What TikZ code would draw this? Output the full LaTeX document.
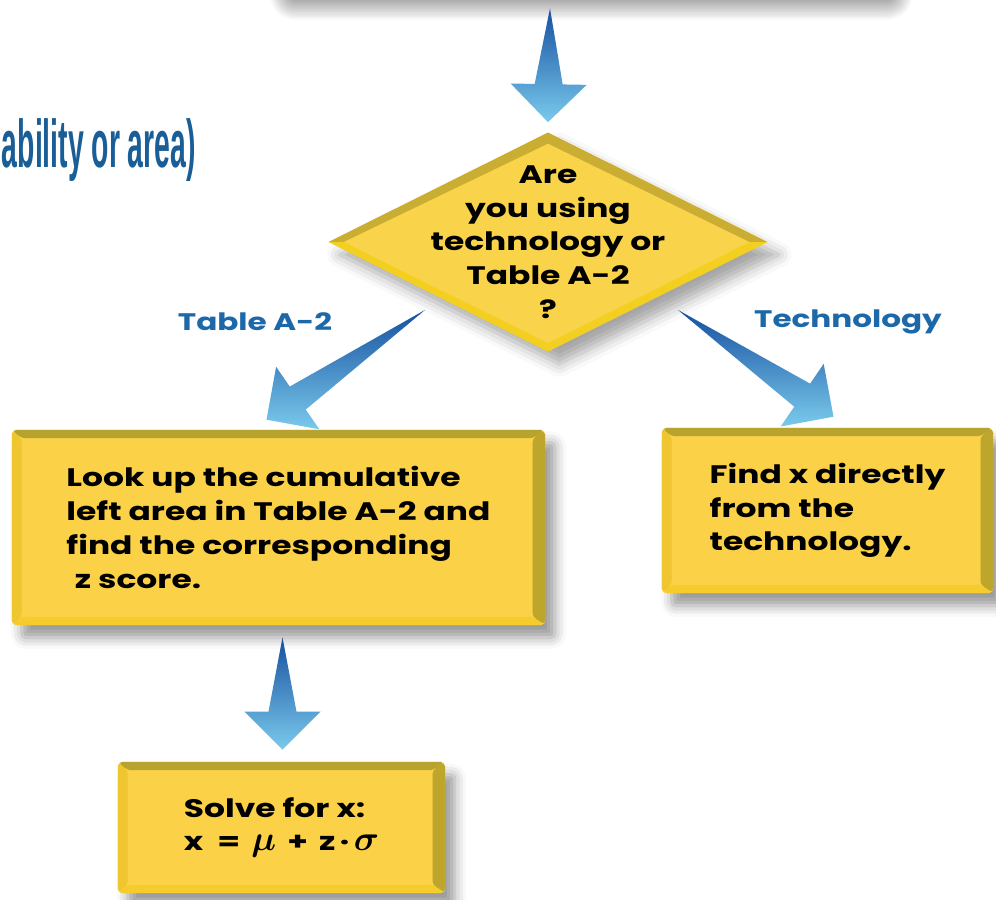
\documentclass[tikz,border=0pt]{standalone}
\usepackage{amsmath}
\usepackage{fontspec}
\setmainfont{Poppins}[FakeStretch=1.3]
\newfontfamily\notefont{Liberation Sans}
\usetikzlibrary{shapes.geometric,calc,shadows.blur}

\definecolor{boxfill}{RGB}{251,209,72}
\definecolor{beveltop}{RGB}{184,163,46}
\definecolor{bevelleft}{RGB}{240,198,48}
\definecolor{bevelright}{RGB}{190,166,44}
\definecolor{bevelbottom}{RGB}{246,204,44}
\definecolor{diafill}{RGB}{249,211,74}
\definecolor{diaupper}{RGB}{202,174,52}
\definecolor{dialower}{RGB}{243,208,32}
\definecolor{arrowdark}{RGB}{22,80,160}
\definecolor{arrowlight}{RGB}{122,202,236}
\definecolor{labelblue}{RGB}{28,104,168}

% tapered shaded arrow from a tail point to a tip point
\newcommand{\flowarrow}[2]{%
  \path[flowshade] (#1)
    -- ($(#2)!0.95cm!(#1)!0.35cm!90:(#2)$)
    -- ($(#2)!0.95cm!(#1)!0.95cm!90:(#2)$)
    -- (#2)
    -- ($(#2)!0.95cm!(#1)!0.95cm!-90:(#2)$)
    -- ($(#2)!0.95cm!(#1)!0.35cm!-90:(#2)$)
    -- cycle;}
% larger greek letters for the formula
\newcommand{\bigsym}[1]{{\fontsize{23}{24}\selectfont$\boldsymbol{#1}$}}

\begin{document}
\begin{tikzpicture}[x=0.025cm, y=-0.025cm,
every node/.style={font=\fontsize{18}{24}\selectfont\bfseries},
stepbox/.style={
  rectangle,
  rounded corners=3pt,
  fill=boxfill,
  align=left,
  inner sep=0pt,
  blur shadow={shadow xshift=7pt, shadow yshift=-9pt,
    shadow blur radius=8pt, shadow opacity=40},
  path picture={
    \path (path picture bounding box.north west) coordinate (o1)
          (path picture bounding box.north east) coordinate (o2)
          (path picture bounding box.south east) coordinate (o3)
          (path picture bounding box.south west) coordinate (o4);
    \path ([shift={(7pt,-6pt)}]o1) coordinate (i1)
          ([shift={(-9pt,-6pt)}]o2) coordinate (i2)
          ([shift={(-9pt,6pt)}]o3) coordinate (i3)
          ([shift={(7pt,6pt)}]o4) coordinate (i4);
    \fill[bevelleft] (o1) -- (i1) -- (i4) -- (o4) -- cycle;
    \fill[beveltop] (o1) -- (o2) -- (i2) -- (i1) -- cycle;
    \fill[bevelright] (o2) -- (o3) -- (i3) -- (i2) -- cycle;
    \fill[bevelbottom] (o4) -- (i4) -- (i3) -- (o3) -- cycle;
    \fill[boxfill] (i1) rectangle (i3);
    }
  },
askbox/.style={
  diamond,
  minimum width=10.975cm,
  minimum height=5.475cm,
  inner sep=0pt,
  fill=diafill,
  blur shadow={shadow xshift=8pt, shadow yshift=-9pt,
    shadow blur radius=9pt, shadow opacity=35},
  path picture={
    \path (path picture bounding box.north) coordinate (d1)
          (path picture bounding box.east) coordinate (d2)
          (path picture bounding box.south) coordinate (d3)
          (path picture bounding box.west) coordinate (d4);
    \path ([yshift=-8pt]d1) coordinate (e1)
          ([xshift=-13pt]d2) coordinate (e2)
          ([yshift=6pt]d3) coordinate (e3)
          ([xshift=11pt]d4) coordinate (e4);
    \fill[diaupper] (d4) -- (d1) -- (d2) -- (e2) -- (e1) -- (e4) -- cycle;
    \fill[dialower] (d4) -- (d3) -- (d2) -- (e2) -- (e3) -- (e4) -- cycle;
    \fill[diafill] (e1) -- (e2) -- (e3) -- (e4) -- cycle;
    }
  },
asktext/.style={align=center, inner sep=0pt},
branchlabel/.style={text=labelblue, font=\fontsize{17}{20}\selectfont\bfseries},
topnote/.style={text=labelblue!90!black, inner sep=0pt,
  font=\notefont\bfseries\fontsize{48}{48}\selectfont},
flowshade/.style={top color=arrowdark, bottom color=arrowlight}
]
\useasboundingbox (0,0) rectangle (996,900);

% boxes
\node[stepbox, minimum width=15cm, minimum height=3cm,
  blur shadow={shadow xshift=8pt, shadow yshift=-10pt,
    shadow blur radius=16pt, shadow blur steps=20, shadow opacity=40}]
  (prev) at (580,-76) {};
\node[topnote, anchor=east] (prevnote) at (196,150)
  {\scalebox{0.42}[1]{ability or area)}};
\node[askbox, label={[asktext, name=asktxt]center:Are\\you using\\technology or\\Table A-2\\?}]
  (ask) at (548,242) {};
\node[stepbox, minimum width=13.325cm, minimum height=4.875cm] (lookup) at (278.5,527.5)
  {Look up the cumulative\\left area in Table A-2 and\\find the corresponding\\\hspace*{6pt}z score.};
\node[stepbox, minimum width=8.275cm, minimum height=4.125cm] (direct) at (827.5,510.5)
  {Find x directly\\from the\\technology.};
\node[stepbox, minimum width=8.175cm, minimum height=3.275cm] (solve) at (281.5,827.5)
  {Solve for x:\\x\hspace{5pt} = \hspace{3pt}\bigsym{\mu}\hspace{3pt} + \hspace{3pt}z\,·\,\bigsym{\sigma}};

% branch labels
\node[branchlabel] (lbltable) at (255,322) {Table A-2};
\node[branchlabel] (lbltech) at (848,322) {Technology};

% arrows
\coordinate (t1) at ($(prev.south)+(-30,24)$);
\coordinate (h1) at ($(ask.north)+(0,-10)$);
\coordinate (t2) at ($(ask.south west)+(-13,13)$);
\coordinate (h2) at ($(lookup.north)+(-12,-10)$);
\coordinate (t3) at ($(ask.south east)+(20,13)$);
\coordinate (h3) at ($(direct.north)+(6,-11)$);
\coordinate (t4) at ($(lookup.south)+(4,12)$);
\coordinate (h4) at ($(solve.north)+(1,-12)$);
\flowarrow{t1}{h1}
\flowarrow{t2}{h2}
\flowarrow{t3}{h3}
\flowarrow{t4}{h4}
\end{tikzpicture}
\end{document}
